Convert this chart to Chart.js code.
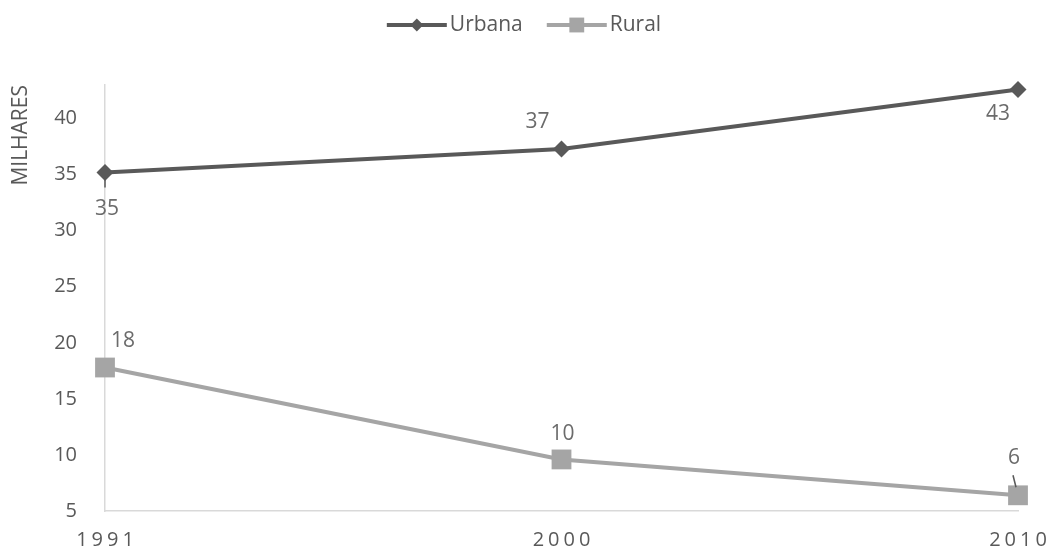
<!DOCTYPE html>
<html>
<head>
<meta charset="utf-8">
<script src="https://cdn.jsdelivr.net/npm/chart.js@4.4.1/dist/chart.umd.min.js"></script>
<style>
  html, body { margin: 0; padding: 0; background: #fff; }
  #wrap { width: 1048px; height: 551px; }
</style>
</head>
<body>
<div id="wrap"><canvas id="grafico"></canvas></div>
<script>
var anos = ['1991', '2000', '2010'];
var urbana = [35.2, 37.3, 42.6];
var rural = [17.8, 9.6, 6.4];
var ticksY = [5, 10, 15, 20, 25, 30, 35, 40];

var FONTE = "'Open Sans', 'Noto Sans', sans-serif";
var CINZA_ESCURO = '#595959';
var CINZA_CLARO = '#a5a5a5';

// deslocamento (dx, dy) de cada rótulo em relação ao seu ponto
var posRotulos = [
    [[2, 37], [-24, -27], [-20, 25]],
    [[18, -26], [1, -25], [-4, -37]]
];
// linhas-guia: serie, indice, x1, y1, x2, y2 (relativos ao ponto)
var guias = [
    [0, 0, 0, 5, 0, 15],
    [1, 2, -5, -20, -2, -8]
];

// legenda com linha + marcador, centrada no topo
var legendaLinhas = {
    id: 'legendaLinhas',
    afterDraw: function (chart) {
        var ctx = chart.ctx;
        var itens = chart.data.datasets;
        var larguraMarca = 60, espaco = 3, entre = 24;
        ctx.save();
        ctx.font = '21px ' + FONTE;
        ctx.textBaseline = 'middle';
        var total = 0;
        itens.forEach(function (ds, i) {
            total += larguraMarca + espaco + ctx.measureText(ds.label).width + (i > 0 ? entre : 0);
        });
        var x = (chart.width - total) / 2;
        var y = 25;
        itens.forEach(function (ds, i) {
            if (i > 0) x += entre;
            ctx.strokeStyle = ds.borderColor;
            ctx.fillStyle = ds.borderColor;
            ctx.lineWidth = 4;
            ctx.beginPath();
            ctx.moveTo(x, y);
            ctx.lineTo(x + larguraMarca, y);
            ctx.stroke();
            Chart.helpers.drawPoint(ctx, {
                pointStyle: ds.pointStyle,
                radius: ds.pointStyle === 'rect' ? 10.5 : 6.5,
                rotation: 0,
                borderWidth: 0
            }, x + larguraMarca / 2, y);
            x += larguraMarca + espaco;
            ctx.fillStyle = CINZA_ESCURO;
            ctx.textAlign = 'left';
            ctx.fillText(ds.label, x, y);
            x += ctx.measureText(ds.label).width;
        });
        ctx.restore();
    }
};

// rótulos de dados e anos do eixo x
var rotulos = {
    id: 'rotulos',
    afterDatasetsDraw: function (chart) {
        var ctx = chart.ctx;
        ctx.save();

        guias.forEach(function (g) {
            var p = chart.getDatasetMeta(g[0]).data[g[1]];
            ctx.strokeStyle = CINZA_ESCURO;
            ctx.lineWidth = 1.5;
            ctx.beginPath();
            ctx.moveTo(p.x + g[2], p.y + g[3]);
            ctx.lineTo(p.x + g[4], p.y + g[5]);
            ctx.stroke();
        });

        ctx.font = '21px ' + FONTE;
        ctx.fillStyle = '#6b6b6b';
        ctx.textAlign = 'center';
        ctx.textBaseline = 'middle';
        chart.data.datasets.forEach(function (ds, i) {
            var meta = chart.getDatasetMeta(i);
            meta.data.forEach(function (p, j) {
                var d = posRotulos[i][j];
                ctx.fillText(Math.round(ds.data[j]), p.x + d[0], p.y + d[1]);
            });
        });

        var escalaX = chart.scales.x;
        ctx.font = '20px ' + FONTE;
        ctx.fillStyle = CINZA_ESCURO;
        ctx.letterSpacing = '4px';
        anos.forEach(function (a, i) {
            ctx.fillText(a, escalaX.getPixelForTick(i) + 2, 540);
        });
        ctx.restore();
    }
};

var ctx = document.getElementById('grafico').getContext('2d');
window.grafico = new Chart(ctx, {
    type: 'line',
    data: {
        labels: anos,
        datasets: [{
            label: 'Urbana',
            data: urbana,
            borderColor: CINZA_ESCURO,
            backgroundColor: CINZA_ESCURO,
            borderWidth: 4,
            pointStyle: 'rectRot',
            pointRadius: 8.5,
            pointHoverRadius: 8.5,
            pointBorderWidth: 0,
            clip: false
        }, {
            label: 'Rural',
            data: rural,
            borderColor: CINZA_CLARO,
            backgroundColor: CINZA_CLARO,
            borderWidth: 4,
            pointStyle: 'rect',
            pointRadius: 14,
            pointHoverRadius: 14,
            pointBorderWidth: 0,
            clip: false
        }]
    },
    options: {
        responsive: true,
        maintainAspectRatio: false,
        animation: false,
        layout: {
            padding: { top: 85, right: 30, bottom: 0, left: 0 }
        },
        plugins: {
            legend: { display: false },
            tooltip: { enabled: false }
        },
        scales: {
            x: {
                offset: false,
                grid: { display: false, drawTicks: false },
                border: { display: true, color: '#d9d9d9', width: 1.5 },
                ticks: { display: false },
                afterFit: function (s) { s.height = 37; }
            },
            y: {
                min: 5,
                max: 43,
                grid: { display: false, drawTicks: false },
                border: { display: true, color: '#d9d9d9', width: 1.5 },
                afterBuildTicks: function (s) {
                    s.ticks = ticksY.map(function (v) { return { value: v }; });
                },
                ticks: {
                    color: CINZA_ESCURO,
                    padding: 28,
                    font: { family: FONTE, size: 20 }
                },
                title: {
                    display: true,
                    text: 'MILHARES',
                    align: 'end',
                    color: CINZA_ESCURO,
                    font: { family: FONTE, size: 21 },
                    padding: { top: 8, bottom: 0 }
                },
                afterFit: function (s) { s.width = 105; }
            }
        }
    },
    plugins: [legendaLinhas, rotulos]
});
</script>
</body>
</html>
